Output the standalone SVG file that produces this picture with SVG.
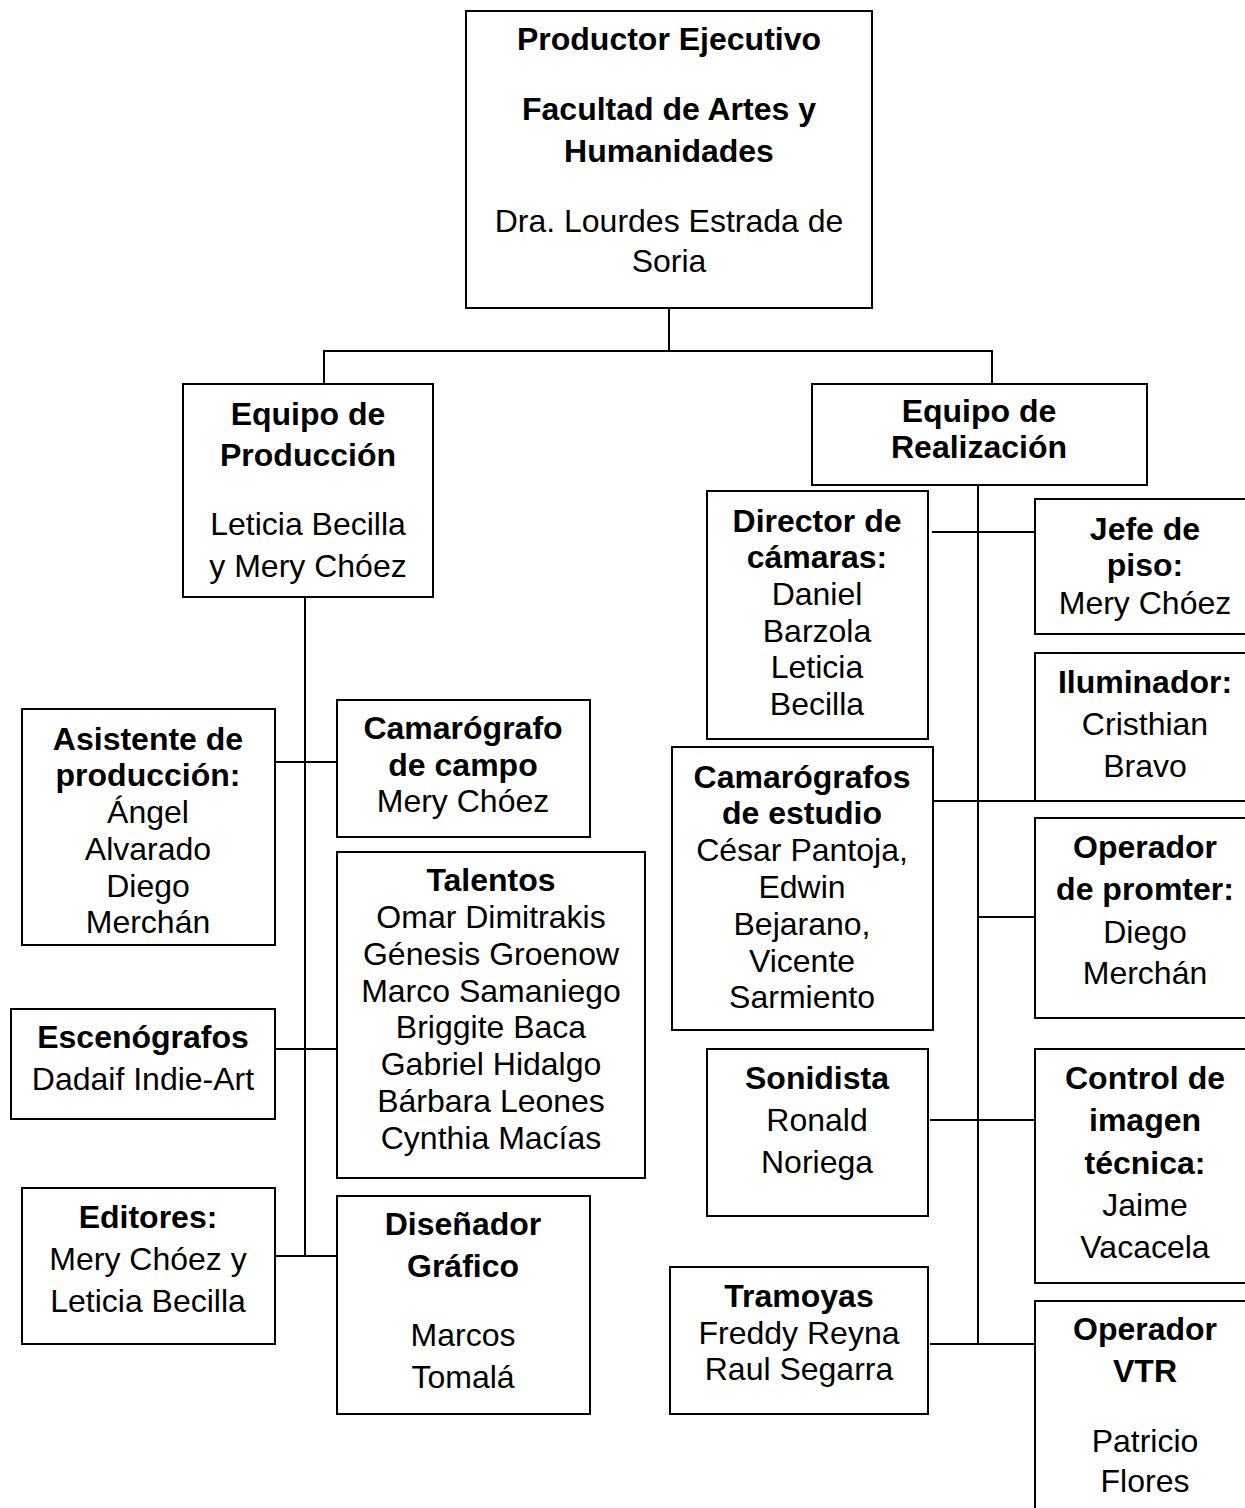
<svg xmlns="http://www.w3.org/2000/svg" width="1245" height="1508" viewBox="0 0 1245 1508">
<style>
rect.box{fill:#fff;stroke:#000;stroke-width:2}
.c line{stroke:#000;stroke-width:2}
text{font-family:"Liberation Sans",Arial,sans-serif;font-size:32px;text-anchor:middle;fill:#000}
.b{font-weight:bold}
</style>
<rect width="1245" height="1508" fill="#fff"/>
<g class="c" id="connectors">
<line x1="669" y1="308" x2="669" y2="351"/>
<line x1="323" y1="351" x2="993" y2="351"/>
<line x1="324" y1="350" x2="324" y2="384"/>
<line x1="992" y1="350" x2="992" y2="384"/>
<line x1="305" y1="597" x2="305" y2="1256"/>
<line x1="275" y1="762" x2="337" y2="762"/>
<line x1="275" y1="1049" x2="337" y2="1049"/>
<line x1="275" y1="1256" x2="337" y2="1256"/>
<line x1="978" y1="485" x2="978" y2="1344"/>
<line x1="932" y1="532" x2="1035" y2="532"/>
<line x1="933" y1="801" x2="1245" y2="801"/>
<line x1="978" y1="917" x2="1035" y2="917"/>
<line x1="930" y1="1120" x2="1035" y2="1120"/>
<line x1="930" y1="1344" x2="1035" y2="1344"/>
</g>
<g id="n-productor">
<rect class="box" x="466" y="11" width="406" height="297"/>
<text class="b" x="669" y="50">Productor Ejecutivo</text>
<text class="b" x="669" y="120">Facultad de Artes y</text>
<text class="b" x="669" y="162">Humanidades</text>
<text x="669" y="232">Dra. Lourdes Estrada de</text>
<text x="669" y="272">Soria</text>
</g>
<g id="n-produccion">
<rect class="box" x="183" y="384" width="250" height="213"/>
<text class="b" x="308" y="425">Equipo de</text>
<text class="b" x="308" y="466">Producción</text>
<text x="308" y="535">Leticia Becilla</text>
<text x="308" y="577">y Mery Chóez</text>
</g>
<g id="n-realizacion">
<rect class="box" x="812" y="384" width="335" height="101"/>
<text class="b" x="979" y="422">Equipo de</text>
<text class="b" x="979" y="458">Realización</text>
</g>
<g id="n-asistente">
<rect class="box" x="22" y="709" width="253" height="236"/>
<text class="b" x="148" y="750">Asistente de</text>
<text class="b" x="148" y="786">producción:</text>
<text x="148" y="823">Ángel</text>
<text x="148" y="860">Alvarado</text>
<text x="148" y="897">Diego</text>
<text x="148" y="933">Merchán</text>
</g>
<g id="n-camcampo">
<rect class="box" x="337" y="700" width="253" height="137"/>
<text class="b" x="463" y="739">Camarógrafo</text>
<text class="b" x="463" y="776">de campo</text>
<text x="463" y="812">Mery Chóez</text>
</g>
<g id="n-talentos">
<rect class="box" x="337" y="852" width="308" height="326"/>
<text class="b" x="491" y="891">Talentos</text>
<text x="491" y="928">Omar Dimitrakis</text>
<text x="491" y="965">Génesis Groenow</text>
<text x="491" y="1002">Marco Samaniego</text>
<text x="491" y="1038">Briggite Baca</text>
<text x="491" y="1075">Gabriel Hidalgo</text>
<text x="491" y="1112">Bárbara Leones</text>
<text x="491" y="1149">Cynthia Macías</text>
</g>
<g id="n-escenografos">
<rect class="box" x="11" y="1009" width="264" height="110"/>
<text class="b" x="143" y="1048">Escenógrafos</text>
<text x="143" y="1090">Dadaif Indie-Art</text>
</g>
<g id="n-editores">
<rect class="box" x="22" y="1188" width="253" height="156"/>
<text class="b" x="148" y="1228">Editores:</text>
<text x="148" y="1270">Mery Chóez y</text>
<text x="148" y="1312">Leticia Becilla</text>
</g>
<g id="n-disenador">
<rect class="box" x="337" y="1196" width="253" height="218"/>
<text class="b" x="463" y="1235">Diseñador</text>
<text class="b" x="463" y="1277">Gráfico</text>
<text x="463" y="1346">Marcos</text>
<text x="463" y="1388">Tomalá</text>
</g>
<g id="n-director">
<rect class="box" x="707" y="491" width="221" height="248"/>
<text class="b" x="817" y="532">Director de</text>
<text class="b" x="817" y="568">cámaras:</text>
<text x="817" y="605">Daniel</text>
<text x="817" y="642">Barzola</text>
<text x="817" y="678">Leticia</text>
<text x="817" y="715">Becilla</text>
</g>
<g id="n-jefe">
<rect class="box" x="1035" y="499" width="230" height="135"/>
<text class="b" x="1145" y="540">Jefe de</text>
<text class="b" x="1145" y="576">piso:</text>
<text x="1145" y="614">Mery Chóez</text>
</g>
<g id="n-iluminador">
<rect class="box" x="1035" y="653" width="230" height="148"/>
<text class="b" x="1145" y="693">Iluminador:</text>
<text x="1145" y="735">Cristhian</text>
<text x="1145" y="777">Bravo</text>
</g>
<g id="n-camestudio">
<rect class="box" x="672" y="747" width="261" height="283"/>
<text class="b" x="802" y="788">Camarógrafos</text>
<text class="b" x="802" y="824">de estudio</text>
<text x="802" y="861">César Pantoja,</text>
<text x="802" y="898">Edwin</text>
<text x="802" y="935">Bejarano,</text>
<text x="802" y="972">Vicente</text>
<text x="802" y="1008">Sarmiento</text>
</g>
<g id="n-promter">
<rect class="box" x="1035" y="818" width="230" height="200"/>
<text class="b" x="1145" y="858">Operador</text>
<text class="b" x="1145" y="900">de promter:</text>
<text x="1145" y="943">Diego</text>
<text x="1145" y="984">Merchán</text>
</g>
<g id="n-sonidista">
<rect class="box" x="707" y="1049" width="221" height="167"/>
<text class="b" x="817" y="1089">Sonidista</text>
<text x="817" y="1131">Ronald</text>
<text x="817" y="1173">Noriega</text>
</g>
<g id="n-control">
<rect class="box" x="1035" y="1049" width="230" height="234"/>
<text class="b" x="1145" y="1089">Control de</text>
<text class="b" x="1145" y="1131">imagen</text>
<text class="b" x="1145" y="1174">técnica:</text>
<text x="1145" y="1216">Jaime</text>
<text x="1145" y="1258">Vacacela</text>
</g>
<g id="n-tramoyas">
<rect class="box" x="670" y="1267" width="258" height="147"/>
<text class="b" x="799" y="1307">Tramoyas</text>
<text x="799" y="1344">Freddy Reyna</text>
<text x="799" y="1380">Raul Segarra</text>
</g>
<g id="n-vtr">
<rect class="box" x="1035" y="1301" width="230" height="230"/>
<text class="b" x="1145" y="1340">Operador</text>
<text class="b" x="1145" y="1382">VTR</text>
<text x="1145" y="1452">Patricio</text>
<text x="1145" y="1492">Flores</text>
</g>
</svg>
